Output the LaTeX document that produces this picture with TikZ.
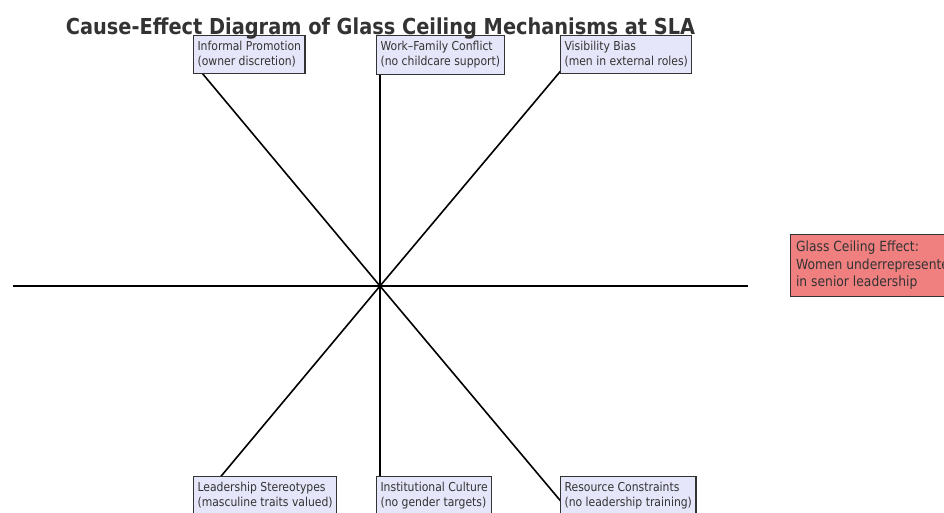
\documentclass[tikz,border=0pt]{standalone}
\usepackage{fontspec}
\setmainfont{DejaVu Sans}[FakeStretch=0.88]
\definecolor{lavender}{HTML}{E6E6FA}
\definecolor{lightcoral}{HTML}{F08080}
\definecolor{inkgray}{HTML}{333333}
\begin{document}
\begin{tikzpicture}[x=1pt,y=-1pt,
    cause/.style={draw=inkgray,line width=1.1pt,fill=lavender,inner xsep=4pt,inner ysep=6pt,
      align=left,anchor=north west,text=inkgray,font=\fontsize{12.3}{14.8}\selectfont},
    effect/.style={draw=inkgray,line width=1.1pt,fill=lightcoral,inner xsep=5.5pt,inner ysep=6.5pt,
      align=left,anchor=north west,text=inkgray,font=\fontsize{14}{17.5}\selectfont},
    spoke/.style={black,line width=1.6pt},
    spine/.style={black,line width=2.8pt}]
  \useasboundingbox (0,0) rectangle (944,512);
  \clip (0,0) rectangle (944,512);
  % spine and hub
  \coordinate (tail) at (13,286);
  \coordinate (head) at (748,286);
  \coordinate (hub) at (380,286);
  \draw[spine] (tail)--(head);
  % spoke ends
  \foreach \n/\x/\y in {ip/197/67, wf/380/67, vb/564/67,
                        ls/197/505, ic/380/505, rc/564/505}{
    \coordinate (\n) at (\x,\y);
    \draw[spoke] (hub)--(\n);
  }
  % cause boxes
  \node[cause] (ipbox) at (193,35) {Informal Promotion\\(owner discretion)};
  \node[cause] (wfbox) at (376,35) {Work–Family Conflict\\(no childcare support)};
  \node[cause] (vbbox) at (560,35) {Visibility Bias\\(men in external roles)};
  \node[cause] (lsbox) at (193,476) {Leadership Stereotypes\\(masculine traits valued)};
  \node[cause] (icbox) at (376,476) {Institutional Culture\\(no gender targets)};
  \node[cause] (rcbox) at (560,476) {Resource Constraints\\(no leadership training)};
  % effect
  \node[effect] (glass) at (790,234) {Glass Ceiling Effect:\\Women underrepresented\\in senior leadership};
  % title
  \node[anchor=base,text=inkgray,font=\bfseries\fontsize{22}{26}\selectfont] (title) at (380.5,34)
    {Cause-Effect Diagram of Glass Ceiling Mechanisms at SLA};
\end{tikzpicture}
\end{document}
